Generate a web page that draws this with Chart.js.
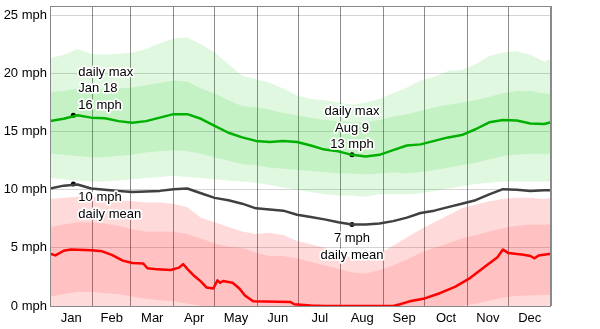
<!DOCTYPE html>
<html><head><meta charset="utf-8">
<script src="https://cdn.jsdelivr.net/npm/chart.js@4.4.0/dist/chart.umd.min.js"></script>
<style>html,body{margin:0;padding:0;background:#fff}#wrap{width:600px;height:329px;position:relative}</style>
</head><body><div id="wrap"><canvas id="c" width="600" height="329"></canvas></div>
<script>
const monthLabels = ['Jan','Feb','Mar','Apr','May','Jun','Jul','Aug','Sep','Oct','Nov','Dec'];
const monthStarts = [0,31,59,90,120,151,181,212,243,273,304,334,365];
const yTicks = [0,5,10,15,20,25];

const days = [0,10,20,30,40,50,60,70,80,90,100,110,120,130,140,150,160,170,180,190,200,210,220,230,240,250,260,270,280,290,300,310,320,330,340,350,360,365];
// daily max wind: percentile bands and average
const maxP90 = [21.3,21.6,22.1,21.7,21.6,21.7,21.8,22.1,22.6,23.0,23.1,22.5,21.8,20.8,19.8,19.5,19.2,18.7,18.1,17.8,17.7,17.5,17.3,17.5,17.8,18.3,18.8,19.4,19.7,20.2,20.3,20.8,21.5,21.8,21.9,21.6,21.0,21.3];
const maxP75 = [18.4,18.5,18.7,18.6,18.7,18.7,18.8,19.0,19.2,19.4,19.3,18.7,18.3,17.7,17.2,17.1,16.9,16.6,16.4,16.2,16.0,15.9,15.8,15.8,16.0,16.3,16.5,16.8,17.1,17.3,17.5,17.7,18.0,18.3,18.5,18.5,18.3,18.2];
const maxP25 = [13.1,13.0,12.9,12.8,12.8,12.9,13.0,13.2,13.3,13.4,13.3,13.1,12.8,12.5,12.2,12.1,11.9,11.8,11.7,11.6,11.5,11.4,11.4,11.3,11.4,11.5,11.4,11.5,11.7,11.9,12.1,12.3,12.6,12.9,13.0,13.1,13.1,13.1];
const maxP10 = [11.0,10.9,10.8,10.7,10.7,10.8,10.9,11.0,11.1,11.2,11.1,11.0,10.9,10.8,10.7,10.6,10.4,10.2,10.0,9.8,9.6,9.5,9.5,9.4,9.6,9.6,9.6,9.7,9.9,10.1,10.3,10.5,10.6,10.7,10.7,10.7,10.7,10.7];
const maxAvg = [15.9,16.1,16.4,16.2,16.15,15.9,15.75,15.9,16.2,16.5,16.5,16.1,15.5,14.9,14.5,14.2,14.1,14.2,14.1,13.8,13.45,13.3,13.0,12.85,13.0,13.4,13.8,13.9,14.2,14.5,14.7,15.2,15.8,16.0,15.95,15.7,15.65,15.8];
// daily mean wind
const meanAvg = [10.1,10.35,10.45,10.1,10.0,9.9,9.8,9.85,9.9,10.05,10.1,9.7,9.3,9.1,8.8,8.4,8.3,8.2,7.85,7.65,7.45,7.2,7.0,7.0,7.1,7.3,7.6,8.0,8.2,8.5,8.8,9.1,9.6,10.05,10.0,9.9,9.95,9.95];
// daily min wind: percentile bands
const minP90 = [9.2,9.3,9.4,9.4,9.3,9.1,9.0,8.9,8.9,8.8,8.5,7.6,7.2,6.8,6.4,6.2,6.3,6.1,5.6,5.3,5.0,4.5,4.2,4.2,4.5,5.2,5.9,6.6,7.2,7.8,8.4,8.7,9.0,9.2,9.3,9.3,9.2,9.3];
const minP75 = [6.8,7.0,7.2,7.2,7.1,6.9,6.6,6.4,6.4,6.4,6.2,5.8,5.4,5.1,5.0,4.6,4.3,4.3,4.1,3.8,3.5,3.2,2.9,2.8,3.1,3.5,4.0,4.6,5.0,5.4,5.8,6.1,6.4,6.7,6.9,7.0,7.0,7.0];
const minP25 = [0.8,1.0,1.2,1.2,1.1,1.0,0.8,0.6,0.5,0.4,0.2,0,0,0,0,0,0,0,0,0,0,0,0,0,0,0,0,0,0,0,0,0.2,0.45,0.7,0.85,0.9,0.95,0.95];
// daily min average line
const minDays = [0,4,10,15,30,38,45,53,60,68,71,78,88,94,97,100,105,110,114,119,122,124,126,133,138,142,148,175,178,190,200,250,255,262,273,284,295,306,317,326,330,334,345,350,353,356,365];
const minAvg = [4.5,4.35,4.75,4.85,4.8,4.7,4.4,3.9,3.7,3.65,3.25,3.15,3.1,3.3,3.6,3.2,2.6,2.1,1.6,1.5,2.2,2.0,2.15,2.0,1.5,0.9,0.4,0.35,0.15,0.05,0,0,0.15,0.4,0.65,1.1,1.65,2.4,3.4,4.2,4.85,4.55,4.4,4.3,4.1,4.35,4.5];
// highlighted points
const markerDays = [17, 220];
const maxMarkers = [16.4, 13.0];
const meanMarkers = [10.5, 7.0];
const maxNotes = [['daily max','Jan 18','16 mph'], ['daily max','Aug 9','13 mph']];
const meanNotes = [['10 mph','daily mean'], ['7 mph','daily mean']];

const monthMids = monthLabels.map((m,i)=>(monthStarts[i]+monthStarts[i+1])/2);
const pts = (xs, ys) => xs.map((d,i)=>({x:d, y:ys[i]}));

const band = (arr, color, fill) => ({data: pts(days, arr), borderWidth: 0, pointRadius: 0, backgroundColor: color, fill: fill, tension: 0});
const line = (xs, arr, color) => ({data: pts(xs, arr), borderColor: color, borderWidth: 2.5, pointRadius: 0, fill: false, tension: 0, borderJoinStyle: 'round'});

const PALE_G = 'rgba(0,200,0,0.125)', DEEP_G = 'rgba(0,200,0,0.23)';
const PALE_R = 'rgba(255,0,0,0.145)', DEEP_R = 'rgba(255,0,0,0.245)';

Chart.defaults.font.family = 'Liberation Sans, Arial, sans-serif';
Chart.defaults.font.size = 13;
Chart.defaults.color = '#000';

const borderPlugin = {
  id: 'boxBorder',
  afterDatasetsDraw(chart) {
    const {ctx, chartArea: a} = chart;
    ctx.save();
    ctx.strokeStyle = '#888';
    ctx.lineWidth = 1;
    ctx.strokeRect(Math.round(a.left)+0.5, Math.round(a.top)+0.5, Math.round(a.right-a.left)-1, Math.round(a.bottom-a.top));
    ctx.restore();
  }
};

const notePlugin = {
  id: 'notes',
  afterDatasetsDraw(chart) {
    const {ctx} = chart;
    const xs = chart.scales.x, ys = chart.scales.y;
    ctx.save();
    ctx.font = '13px Liberation Sans, Arial, sans-serif';
    ctx.textBaseline = 'middle';
    ctx.lineJoin = 'round';
    const draw = (lines, px, py, dy0, align, dx) => {
      ctx.textAlign = align;
      lines.forEach((t, k) => {
        const y = py + dy0 + k*16.5;
        ctx.strokeStyle = 'rgba(255,255,255,0.95)';
        ctx.lineWidth = 3.5;
        ctx.strokeText(t, px+dx, y);
        ctx.fillStyle = '#000';
        ctx.fillText(t, px+dx, y);
      });
    };
    markerDays.forEach((d, i) => {
      const px = xs.getPixelForValue(d);
      const align = i === 0 ? 'left' : 'center';
      const dx = i === 0 ? 5 : 0;
      draw(maxNotes[i], px, ys.getPixelForValue(maxMarkers[i]), -43, align, dx);
      draw(meanNotes[i], px, ys.getPixelForValue(meanMarkers[i]), 14, align, dx);
    });
    ctx.restore();
  }
};

new Chart(document.getElementById('c'), {
  type: 'line',
  data: {
    datasets: [
      band(maxP10, 'rgba(0,0,0,0)', false),
      band(maxP25, PALE_G, '-1'),
      band(maxP75, DEEP_G, '-1'),
      band(maxP90, PALE_G, '-1'),
      band(minP25, PALE_R, 'origin'),
      band(minP75, DEEP_R, '-1'),
      band(minP90, PALE_R, '-1'),
      line(minDays, minAvg, '#ff0000'),
      line(days, meanAvg, '#404040'),
      line(days, maxAvg, '#00b000'),
      {data: pts(markerDays, maxMarkers).concat(pts(markerDays, meanMarkers)), showLine: false, pointRadius: 2.5, pointBackgroundColor: '#000', pointBorderWidth: 0}
    ]
  },
  options: {
    responsive: false,
    animation: false,
    devicePixelRatio: 1,
    layout: {padding: {top: 6, right: 49, left: 0, bottom: 0}},
    plugins: {legend: {display: false}, tooltip: {enabled: false}, filler: {drawTime: 'beforeDatasetsDraw'}},
    scales: {
      x: {
        type: 'linear', min: 0, max: 365,
        afterBuildTicks: s => { s.ticks = monthStarts.concat(monthMids).sort((a,b)=>a-b).map(v=>({value:v})); },
        afterFit: s => { s.height = 23; s.paddingLeft = 0; s.paddingRight = 0; },
        ticks: {autoSkip: false, maxRotation: 0, padding: 5, color: '#000',
          callback: v => { const i = monthMids.indexOf(v); return i >= 0 ? monthLabels[i] : ''; }},
        grid: {drawTicks: false, lineWidth: 1,
          color: c => (c.tick && monthStarts.includes(c.tick.value)) ? 'rgba(0,0,0,0.45)' : 'rgba(0,0,0,0)'},
        border: {display: false}
      },
      y: {
        min: 0, max: 25.8,
        afterBuildTicks: s => { s.ticks = yTicks.map(v=>({value:v})); },
        afterFit: s => { s.width = 50; s.paddingTop = 0; s.paddingBottom = 0; },
        ticks: {padding: 3, color: '#000', callback: v => v + ' mph'},
        grid: {drawTicks: false, color: 'rgba(0,0,0,0.17)'},
        border: {display: false}
      }
    }
  },
  plugins: [borderPlugin, notePlugin]
});
</script></body></html>
